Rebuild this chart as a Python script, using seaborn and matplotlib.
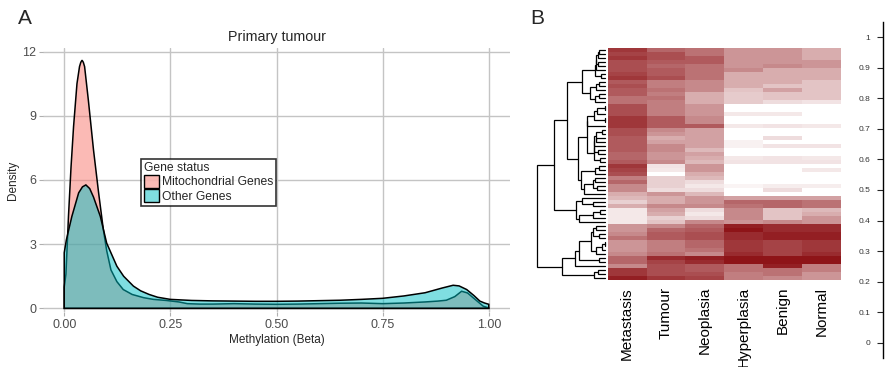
"""
Methylation density (panel A) and clustered heatmap (panel B)
"""
import numpy as np
import pandas as pd
import matplotlib
matplotlib.use("Agg")
import matplotlib.pyplot as plt
from matplotlib.colors import LinearSegmentedColormap, to_rgba
from matplotlib.patches import Patch
import seaborn as sns

# ---- panel A: density curves ----
mito_x = [0.0, 0.004, 0.010, 0.016, 0.022, 0.030, 0.036, 0.039, 0.042, 0.045,
          0.048, 0.057, 0.069, 0.081, 0.092, 0.100, 0.110, 0.124, 0.139, 0.160,
          0.187, 0.210, 0.240, 0.270, 0.290, 0.320, 0.350, 0.400, 0.450, 0.500,
          0.550, 0.600, 0.650, 0.700, 0.750, 0.800, 0.850, 0.880, 0.900, 0.920,
          0.936, 0.950, 0.963, 0.975, 0.987, 1.0]
mito_y = [1.0, 1.6, 4.3, 6.6, 8.5, 10.5, 11.3, 11.5, 11.6, 11.5,
          11.3, 9.7, 7.4, 5.4, 3.7, 2.7, 1.8, 1.25, 0.88, 0.65,
          0.50, 0.42, 0.37, 0.30, 0.22, 0.20, 0.20, 0.22, 0.20, 0.19,
          0.20, 0.22, 0.24, 0.25, 0.22, 0.25, 0.30, 0.34, 0.38, 0.55,
          0.80, 0.72, 0.50, 0.30, 0.10, 0.02]

other_x = [0.0, 0.005, 0.018, 0.034, 0.043, 0.051, 0.060, 0.069, 0.085, 0.100,
           0.124, 0.140, 0.163, 0.180, 0.200, 0.220, 0.250, 0.300, 0.350, 0.400,
           0.450, 0.500, 0.550, 0.600, 0.650, 0.700, 0.750, 0.800, 0.850, 0.890,
           0.916, 0.930, 0.948, 0.965, 0.979, 0.990, 1.0]
other_y = [2.6, 3.2, 4.3, 5.4, 5.68, 5.77, 5.6, 5.2, 4.3, 3.05,
           1.97, 1.5, 1.04, 0.82, 0.65, 0.52, 0.42, 0.37, 0.35, 0.34,
           0.33, 0.33, 0.34, 0.36, 0.38, 0.42, 0.47, 0.58, 0.73, 0.95,
           1.08, 1.05, 0.88, 0.60, 0.34, 0.25, 0.19]

status_labels = ["Mitochondrial Genes", "Other Genes"]
status_colors = ["#F8766D", "#00BFC4"]

# ---- panel B: heatmap values (0 = white, 1 = dark red), top row first ----
tissues = ["Metastasis", "Tumour", "Neoplasia", "Hyperplasia", "Benign", "Normal"]

metastasis = [0.85, 0.8, 0.85, 0.75, 0.75, 0.75, 0.8, 0.85, 0.7, 0.75,
              0.7, 0.7, 0.6, 0.6, 0.75, 0.75, 0.75, 0.85, 0.85, 0.85,
              0.75, 0.75, 0.7, 0.7, 0.7, 0.7, 0.65, 0.65, 0.7, 0.85,
              0.8, 0.75, 0.55, 0.65, 0.5, 0.5, 0.35, 0.3, 0.2, 0.35,
              0.1, 0.1, 0.1, 0.1, 0.45, 0.45, 0.5, 0.6, 0.45, 0.45,
              0.45, 0.5, 0.65, 0.65, 0.5, 0.85, 0.85, 0.95]
tumour = [0.65, 0.75, 0.75, 0.7, 0.65, 0.7, 0.7, 0.75, 0.55, 0.55,
          0.6, 0.55, 0.6, 0.55, 0.55, 0.55, 0.55, 0.7, 0.7, 0.7,
          0.5, 0.45, 0.35, 0.4, 0.5, 0.5, 0.45, 0.45, 0.5, 0.12,
          0.1, 0.0, 0.2, 0.2, 0.2, 0.15, 0.45, 0.35, 0.35, 0.5,
          0.4, 0.35, 0.2, 0.25, 0.5, 0.65, 0.7, 0.7, 0.55, 0.55,
          0.55, 0.6, 0.9, 0.8, 0.75, 0.75, 0.75, 0.85]
neoplasia = [0.6, 0.6, 0.7, 0.7, 0.6, 0.6, 0.6, 0.6, 0.5, 0.5,
             0.5, 0.35, 0.35, 0.35, 0.45, 0.45, 0.45, 0.5, 0.5, 0.7,
             0.4, 0.4, 0.4, 0.4, 0.4, 0.3, 0.4, 0.35, 0.3, 0.45,
             0.45, 0.35, 0.3, 0.15, 0.1, 0.15, 0.3, 0.45, 0.45, 0.5,
             0.15, 0.1, 0.15, 0.5, 0.65, 0.7, 0.75, 0.75, 0.65, 0.65,
             0.6, 0.5, 0.95, 0.9, 0.7, 0.7, 0.75, 0.8]
hyperplasia = [0.45, 0.45, 0.45, 0.45, 0.45, 0.5, 0.35, 0.35, 0.35, 0.35,
               0.25, 0.22, 0.22, 0.22, 0.0, 0.0, 0.1, 0.0, 0.0, 0.1,
               0.0, 0.0, 0.0, 0.06, 0.06, 0.0, 0.0, 0.1, 0.12, 0.0,
               0.0, 0.0, 0.0, 0.0, 0.05, 0.0, 0.0, 0.4, 0.65, 0.6,
               0.5, 0.5, 0.5, 0.45, 0.95, 1.0, 0.9, 0.9, 0.85, 0.85,
               0.85, 0.9, 1.0, 1.0, 0.6, 0.6, 0.55, 0.55]
benign = [0.45, 0.45, 0.45, 0.45, 0.5, 0.35, 0.35, 0.35, 0.35, 0.25,
          0.4, 0.25, 0.25, 0.15, 0.0, 0.0, 0.1, 0.0, 0.0, 0.12,
          0.0, 0.0, 0.15, 0.0, 0.12, 0.0, 0.0, 0.12, 0.12, 0.0,
          0.0, 0.0, 0.0, 0.0, 0.08, 0.15, 0.0, 0.4, 0.65, 0.65,
          0.25, 0.25, 0.25, 0.5, 0.9, 0.9, 0.95, 0.95, 0.8, 0.8,
          0.8, 0.8, 1.0, 1.0, 0.95, 0.6, 0.6, 0.5]
normal = [0.35, 0.35, 0.35, 0.45, 0.45, 0.35, 0.35, 0.35, 0.25, 0.25,
          0.25, 0.25, 0.25, 0.12, 0.0, 0.0, 0.0, 0.0, 0.0, 0.1,
          0.0, 0.0, 0.0, 0.0, 0.12, 0.0, 0.0, 0.1, 0.12, 0.0,
          0.1, 0.0, 0.0, 0.0, 0.08, 0.0, 0.0, 0.4, 0.6, 0.6,
          0.3, 0.35, 0.45, 0.45, 0.9, 0.9, 0.95, 0.95, 0.85, 0.85,
          0.85, 0.9, 1.0, 1.0, 0.55, 0.55, 0.45, 0.45]

key_ticks = [0.0, 0.1, 0.2, 0.3, 0.4, 0.5, 0.6, 0.7, 0.8, 0.9, 1.0]
key_labels = ["0", "0.1", "0.2", "0.3", "0.4", "0.5", "0.6", "0.7", "0.8", "0.9", "1"]


def ordered_links(mat):
    """Average-linkage clustering that only merges neighbouring rows,
    so the leaf order stays the same as the heatmap order."""
    clusters = [{"rows": [i], "pos": i + 0.5, "h": 0.0} for i in range(len(mat))]
    links = []
    while len(clusters) > 1:
        best_k, best_d = 0, None
        for k in range(len(clusters) - 1):
            a = mat[clusters[k]["rows"]]
            b = mat[clusters[k + 1]["rows"]]
            d = np.sqrt(((a[:, None, :] - b[None, :, :]) ** 2).sum(-1)).mean()
            if best_d is None or d < best_d:
                best_k, best_d = k, d
        a, b = clusters[best_k], clusters[best_k + 1]
        h = max(best_d, a["h"], b["h"])
        links.append((a["pos"], a["h"], b["pos"], b["h"], h))
        clusters[best_k:best_k + 2] = [{"rows": a["rows"] + b["rows"],
                                        "pos": (a["pos"] + b["pos"]) / 2, "h": h}]
    return links, clusters[0]["h"]


sns.set_style("white")
plt.rcParams["font.family"] = ["Liberation Sans", "DejaVu Sans"]

W, H = 885, 367
fig = plt.figure(figsize=(W / 100, H / 100), dpi=100)


def px_axes(x0, y0, x1, y1):
    return fig.add_axes([x0 / W, 1 - y1 / H, (x1 - x0) / W, (y1 - y0) / H])


# ================= Panel A =================
ax = px_axes(43, 48, 510, 312)
for xs, ys, col in zip([mito_x, other_x], [mito_y, other_y], status_colors):
    px = np.concatenate([[xs[0]], xs, [xs[-1]]])
    py = np.concatenate([[0], ys, [0]])
    ax.fill(px, py, facecolor=to_rgba(col, 0.5), edgecolor="black", linewidth=1.1, zorder=3)

ax.set_xlim(-0.05, 1.05)
ax.set_ylim(-0.17, 12.17)
ax.set_xticks([0, 0.25, 0.5, 0.75, 1.0])
ax.set_xticklabels(["0.00", "0.25", "0.50", "0.75", "1.00"])
ax.set_yticks([0, 3, 6, 9, 12])
ax.grid(True, color="#C4C4C4", linewidth=1.0)
ax.set_axisbelow(True)
for s in ax.spines.values():
    s.set_visible(False)
ax.tick_params(axis="both", length=3, width=0.8, color="#B0B0B0", labelcolor="#4D4D4D",
               labelsize=9, pad=2, left=True, bottom=True)
ax.set_xlabel("Methylation (Beta)", fontsize=8.5, labelpad=2)
ax.set_ylabel("Density", fontsize=8.5, labelpad=2)
ax.set_title("Primary tumour", fontsize=10.3, pad=5)

handles = [Patch(facecolor=to_rgba(c, 0.5), edgecolor="black", linewidth=1.0, label=l)
           for c, l in zip(status_colors, status_labels)]
leg = ax.legend(handles=handles, title="Gene status", loc="upper left",
                bbox_to_anchor=(0.21, 0.578), fontsize=8.7, title_fontsize=8.7,
                frameon=True, fancybox=False, handlelength=1.25, handleheight=1.25,
                handletextpad=0.2, borderpad=0.25, labelspacing=0.05,
                borderaxespad=0, alignment="left")
leg.get_frame().set_edgecolor("black")
leg.get_frame().set_linewidth(1.2)
leg.set_zorder(5)

fig.text(18 / W, 1 - 18 / H, "A", fontsize=15, ha="left", va="center")
fig.text(530 / W, 1 - 18 / H, "B", fontsize=15, ha="left", va="center")

# ================= Panel B =================
heat_df = pd.DataFrame({"Metastasis": metastasis, "Tumour": tumour, "Neoplasia": neoplasia,
                        "Hyperplasia": hyperplasia, "Benign": benign, "Normal": normal},
                       columns=tissues)
cmap = LinearSegmentedColormap.from_list("wr", ["#FFFFFF", "#8E1418"])

ax_hm = px_axes(607.7, 48, 841, 280)
sns.heatmap(heat_df, ax=ax_hm, cmap=cmap, vmin=0, vmax=1, cbar=False,
            xticklabels=True, yticklabels=False, linewidths=0)
ax_hm.tick_params(axis="x", length=0, pad=5, labelsize=11, labelcolor="black")
for t in ax_hm.get_xticklabels():
    t.set_rotation(90)
    t.set_va("top")
ax_hm.set_xlabel("")
ax_hm.set_ylabel("")

links, hmax = ordered_links(heat_df.to_numpy())
ax_dn = px_axes(537, 48, 605, 280)
for p1, h1, p2, h2, h in links:
    ax_dn.plot([h1, h, h, h2], [p1, p1, p2, p2], color="black", linewidth=0.9,
               solid_joinstyle="miter", clip_on=False)
ax_dn.set_xlim(hmax, 0)
ax_dn.set_ylim(len(heat_df), 0)
ax_dn.axis("off")

# colour-key axis, mostly off the right edge
ax_key = px_axes(883, 22, 1000, 358)
ax_key.set_ylim(-0.05, 1.05)
ax_key.set_xlim(0, 1)
ax_key.set_yticks(key_ticks)
ax_key.set_yticklabels(key_labels)
ax_key.set_xticks([])
for name in ["top", "right", "bottom"]:
    ax_key.spines[name].set_visible(False)
ax_key.spines["left"].set_linewidth(1.0)
ax_key.spines["left"].set_color("black")
ax_key.tick_params(axis="y", left=True, length=4, width=0.8, labelsize=6, pad=5,
                   labelcolor="#333333")
ax_key.patch.set_alpha(0)

fig.savefig("out.png", dpi=100)
